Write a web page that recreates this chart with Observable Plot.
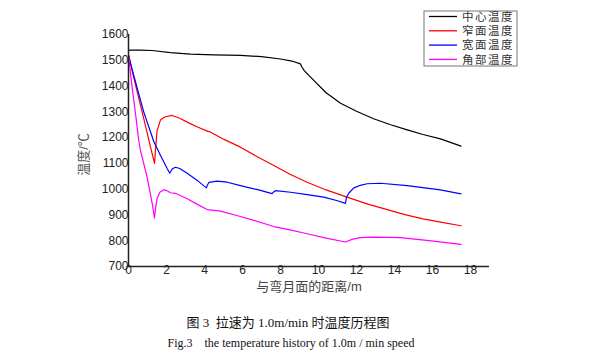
<!DOCTYPE html>
<html>
<head>
<meta charset="utf-8">
<script src="https://cdn.jsdelivr.net/npm/d3@7"></script>
<script src="https://cdn.jsdelivr.net/npm/@observablehq/plot@0.6"></script>
<style>
  html, body { margin: 0; padding: 0; background: #fff; }
  #chart { width: 616px; height: 361px; }
</style>
</head>
<body>
<div id="chart"></div>
<script>
const xTicks = [0, 2, 4, 6, 8, 10, 12, 14, 16, 18];
const yTicks = [700, 800, 900, 1000, 1100, 1200, 1300, 1400, 1500, 1600];

const seriesNames = ["中心温度", "窄面温度", "宽面温度", "角部温度"];
const seriesColors = ["#000000", "#ff0000", "#0000ff", "#ff00ff"];

const centerTemp = [[0,1539],[0.6,1539],[1.25,1538],[2.2,1530],[3.26,1524],[4.5,1521],[5.9,1519],[7,1514],[8,1505],[8.6,1497],[9.05,1486],[9.12,1475],[9.25,1460],[9.75,1422],[10.4,1374],[11.16,1333],[12,1302],[12.9,1273],[13.8,1250],[14.67,1230],[15.5,1212],[16.42,1195],[17.5,1167]];

const narrowTemp = [[0,1520],[0.4,1395],[0.8,1275],[1.16,1163],[1.37,1100],[1.42,1150],[1.5,1225],[1.68,1268],[1.9,1280],[2.3,1286],[2.7,1275],[3.09,1260],[3.6,1242],[4.17,1224],[4.3,1222],[5,1194],[5.89,1163],[6.8,1125],[7.65,1092],[8.5,1058],[9.4,1027],[10.4,997],[11.5,969],[12.6,942],[13.8,917],[14.6,900],[15.5,885],[16.5,871],[17.5,858]];

const wideTemp = [[0,1520],[0.28,1440],[0.8,1300],[1.33,1185],[1.68,1132],[2.04,1079],[2.17,1062],[2.3,1078],[2.47,1085],[2.7,1080],[3.09,1062],[3.6,1035],[4.1,1005],[4.15,1015],[4.23,1026],[4.67,1031],[5.2,1027],[5.89,1014],[6.8,998],[7.56,983],[7.65,990],[7.74,994],[8.53,988],[9.4,979],[10.28,969],[11,955],[11.42,945],[11.47,968],[11.6,985],[11.86,1005],[12.2,1015],[12.56,1021],[13.26,1023],[14.67,1014],[15.5,1006],[16.42,997],[17.5,982]];

const cornerTemp = [[0,1520],[0.15,1420],[0.37,1292],[0.54,1189],[0.63,1150],[0.98,1047],[1.25,944],[1.37,888],[1.43,930],[1.51,965],[1.65,988],[1.86,998],[2.05,993],[2.21,986],[2.47,984],[3.09,963],[3.6,942],[4.14,921],[4.84,915],[5.89,894],[6.42,883],[7.65,855],[8.5,842],[9.4,827],[10.4,810],[11.42,795],[11.8,806],[12.2,812],[12.91,814],[14.3,812],[15.7,801],[17.5,786]];

const xLabel = "与弯月面的距离/m";
const yLabel = "温度/℃";
const captionCN = "图 3  拉速为 1.0m/min 时温度历程图";
const captionEN = "Fig.3    the temperature history of 1.0m / min speed";

const allSeries = [centerTemp, narrowTemp, wideTemp, cornerTemp];
const rows = allSeries.flatMap((s, i) => s.map(([x, y]) => ({x, y, name: seriesNames[i]})));

const sans = "Arial, 'Liberation Sans', 'Noto Sans CJK SC', sans-serif";
const serif = "'Liberation Serif', 'Times New Roman', 'Noto Sans CJK SC', serif";

const plot = Plot.plot({
  width: 616,
  height: 361,
  marginLeft: 128,
  marginRight: 127,
  marginTop: 34,
  marginBottom: 95,
  style: {fontFamily: sans, background: "#fff"},
  x: {domain: [0, 19]},
  y: {domain: [700, 1600]},
  color: {domain: seriesNames, range: seriesColors},
  marks: [
    Plot.axisX({ticks: xTicks, tickSize: 0, tickPadding: 0, fontSize: 12, fill: "#222", label: null, dy: -1, tickFormat: d => String(d)}),
    Plot.axisY({ticks: yTicks, tickSize: 0, tickPadding: 0, fontSize: 12, fill: "#222", label: null, tickFormat: d => String(d)}),
    Plot.line(rows, {x: "x", y: "y", z: "name", stroke: "name", strokeWidth: 1.2}),
    Plot.ruleY([700], {stroke: "#222", strokeWidth: 1.5}),
    Plot.ruleX([0], {stroke: "#222", strokeWidth: 1.5}),
    Plot.text([xLabel], {frameAnchor: "bottom", lineAnchor: "middle", dy: 20, fontSize: 13, fill: "#444", fontFamily: sans}),
    Plot.text([yLabel], {frameAnchor: "left", textAnchor: "middle", lineAnchor: "middle", dx: -45, rotate: -90, fontSize: 13, fill: "#555", fontFamily: sans, dy: 4}),
    Plot.text([captionCN], {frameAnchor: "bottom", lineAnchor: "middle", dy: 56, dx: -21, fontSize: 13, fill: "#111", fontFamily: serif}),
    Plot.text([captionEN], {frameAnchor: "bottom", lineAnchor: "middle", dy: 77, dx: -18, fontSize: 12, fill: "#111", fontFamily: serif})
  ]
});

// Legend box (top right)
const svg = d3.select(plot);
const lg = svg.append("g").attr("transform", "translate(424,11)");
lg.append("rect").attr("x", 0).attr("y", 0).attr("width", 93).attr("height", 55)
  .attr("fill", "#fff").attr("stroke", "#777").attr("stroke-width", 1);
seriesNames.forEach((name, i) => {
  const yy = 5.5 + i * 14.3;
  lg.append("line").attr("x1", 5).attr("x2", 33).attr("y1", yy).attr("y2", yy)
    .attr("stroke", seriesColors[i]).attr("stroke-width", 1.3);
  lg.append("text").attr("x", 38).attr("y", yy).attr("dy", "0.36em")
    .attr("text-anchor", "start")
    .attr("font-size", 11.5).attr("fill", "#333").attr("letter-spacing", 1.5)
    .attr("font-family", "'Noto Sans CJK SC', sans-serif").text(name);
});

document.getElementById("chart").appendChild(plot);
</script>
</body>
</html>
